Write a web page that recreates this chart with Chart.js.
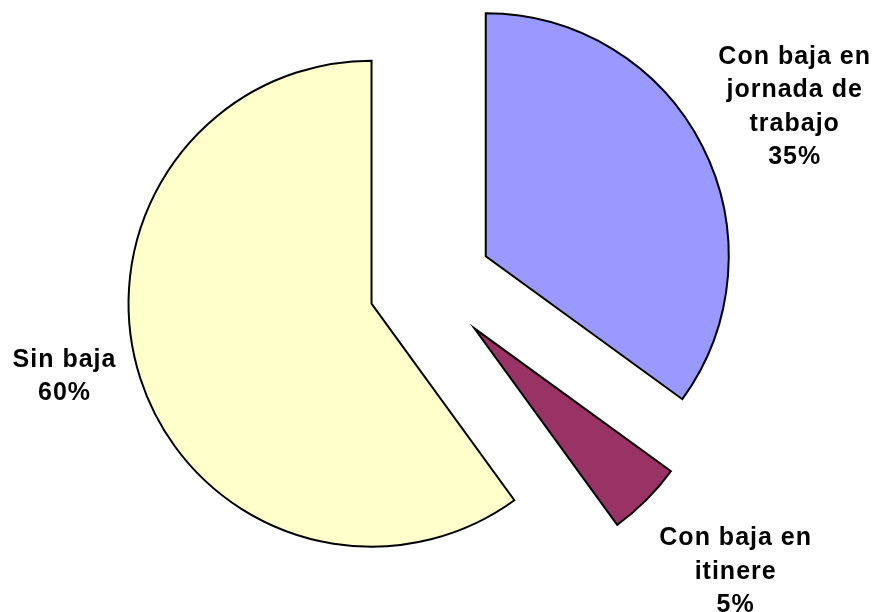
<!DOCTYPE html>
<html>
<head>
<meta charset="utf-8">
<script src="https://cdn.jsdelivr.net/npm/chart.js@4.4.1/dist/chart.umd.min.js"></script>
<style>
  html, body { margin: 0; padding: 0; background: #ffffff; }
  #wrap { width: 875px; height: 612px; position: relative; }
</style>
</head>
<body>
<div id="wrap"><canvas id="pieChart"></canvas></div>
<script>
// Datos del gráfico
const categories = [
    ['Con baja en', 'jornada de', 'trabajo'],
    ['Con baja en', 'itinere'],
    ['Sin baja']
];
const values = [35, 5, 60];
const colors = ['#9999FF', '#993366', '#FFFFCC'];

// Estilo: separación de las porciones y colocación de las etiquetas
const EXPLODE = 62;
const labelDistance = [340, 354, 326];
const labelNudge = [[6, 5], [11, -7], [3, -28]];
const LINE_HEIGHT = 33.5;

// Dibuja cada porción desplazada desde el centro (como en Excel)
const explodePlugin = {
    id: 'explode',
    beforeDatasetDraw(chart, args) {
        const ctx = chart.ctx;
        args.meta.data.forEach(arc => {
            const mid = (arc.startAngle + arc.endAngle) / 2;
            ctx.save();
            ctx.translate(Math.cos(mid) * EXPLODE, Math.sin(mid) * EXPLODE);
            arc.draw(ctx);
            ctx.restore();
        });
        return false;
    }
};

// Etiquetas: nombre + porcentaje
const labelPlugin = {
    id: 'pieLabels',
    afterDatasetsDraw(chart) {
        const ctx = chart.ctx;
        const meta = chart.getDatasetMeta(0);
        const total = values.reduce((a, b) => a + b, 0);
        ctx.save();
        ctx.font = 'bold 25px "Liberation Sans", Arial, sans-serif';
        ctx.letterSpacing = '1px';
        ctx.fillStyle = '#000000';
        ctx.textAlign = 'center';
        ctx.textBaseline = 'middle';
        meta.data.forEach((arc, i) => {
            const mid = (arc.startAngle + arc.endAngle) / 2;
            const d = EXPLODE + labelDistance[i];
            const cx = arc.x + Math.cos(mid) * d + labelNudge[i][0];
            const cy = arc.y + Math.sin(mid) * d + labelNudge[i][1];
            const lines = categories[i].concat([Math.round(values[i] / total * 100) + '%']);
            lines.forEach((line, k) => {
                const y = cy + (k - (lines.length - 1) / 2) * LINE_HEIGHT;
                ctx.fillText(line, cx, y);
            });
        });
        ctx.restore();
    }
};

const ctx = document.getElementById('pieChart').getContext('2d');
new Chart(ctx, {
    type: 'pie',
    data: {
        labels: categories,
        datasets: [{
            data: values,
            backgroundColor: colors,
            borderColor: '#000000',
            borderWidth: 2,
            borderJoinStyle: 'miter',
            radius: 243
        }]
    },
    options: {
        responsive: true,
        maintainAspectRatio: false,
        animation: false,
        layout: {
            padding: { left: 0, right: 14, top: 0, bottom: 43 }
        },
        plugins: {
            legend: { display: false },
            tooltip: { enabled: false }
        }
    },
    plugins: [explodePlugin, labelPlugin]
});
</script>
</body>
</html>
